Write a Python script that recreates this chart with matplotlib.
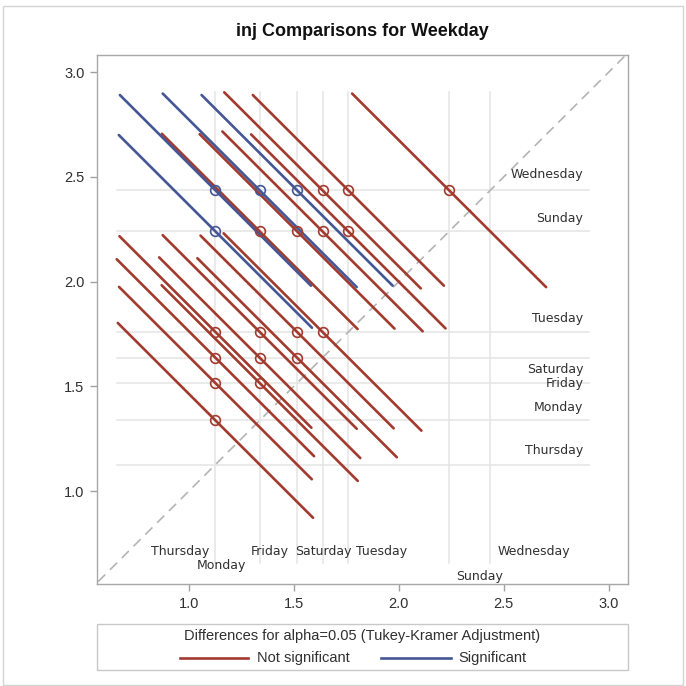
import matplotlib
matplotlib.use('Agg')
import matplotlib.pyplot as plt
from matplotlib.lines import Line2D
from matplotlib.patches import Rectangle
import numpy as np

# LS-means of inj by weekday (ascending)
days = ['Thursday', 'Monday', 'Friday', 'Saturday', 'Tuesday', 'Sunday', 'Wednesday']
lsmeans = [1.127, 1.338, 1.516, 1.637, 1.760, 2.240, 2.436]

# Pairwise comparisons: lower-mean day, higher-mean day and the half-width of the
# Tukey-Kramer adjusted confidence interval for their difference
pair_lo = ['Thursday', 'Thursday', 'Thursday', 'Thursday', 'Thursday', 'Thursday',
           'Monday', 'Monday', 'Monday', 'Monday', 'Monday',
           'Friday', 'Friday', 'Friday', 'Friday',
           'Saturday', 'Saturday', 'Saturday',
           'Tuesday', 'Tuesday',
           'Sunday']
pair_hi = ['Monday', 'Friday', 'Saturday', 'Tuesday', 'Sunday', 'Wednesday',
           'Friday', 'Saturday', 'Tuesday', 'Sunday', 'Wednesday',
           'Saturday', 'Tuesday', 'Sunday', 'Wednesday',
           'Tuesday', 'Sunday', 'Wednesday',
           'Sunday', 'Wednesday',
           'Wednesday']
ci_halfwidth = [0.930, 0.918, 0.940, 0.914, 0.920, 0.910,
                0.934, 0.958, 0.924, 0.932, 0.924,
                0.950, 0.920, 0.928, 0.910,
                0.942, 0.954, 0.936,
                0.926, 0.910,
                0.924]

RED = '#A23A2E'
BLUE = '#445694'
REF = '#e4e4e4'
TXT = '#303030'

plt.rcParams['font.family'] = ['Liberation Sans', 'DejaVu Sans']

W, H = 686, 686
fig = plt.figure(figsize=(W / 100, H / 100), dpi=100)


def fx(px):
    return px / W


def fy(py):
    return 1 - py / H


ax = fig.add_axes([fx(97), fy(584), fx(628 - 97), (584 - 55) / H])
ax.set_xlim(0.563, 3.092)
ax.set_ylim(0.557, 3.082)

mean_of = dict(zip(days, lsmeans))

# segment endpoints for every comparison
segs = []
for a, b, hw in zip(pair_lo, pair_hi, ci_halfwidth):
    x0, y0 = mean_of[a], mean_of[b]
    sig = abs(y0 - x0) > hw
    segs.append((x0, y0, hw / 2, sig))

lo = min(min(x0 - h, y0 - h) for x0, y0, h, _ in segs)
hi = max(max(x0 + h, y0 + h) for x0, y0, h, _ in segs)

# reference lines at each mean
for m in lsmeans:
    ax.plot([lo, hi], [m, m], color=REF, lw=1.1, zorder=1)
    ax.plot([m, m], [lo, hi], color=REF, lw=1.1, zorder=1)

# diagonal of equal means
ax.plot([0.4, 3.3], [0.4, 3.3], color='#b4b4b4', lw=1.2,
        linestyle=(0, (6, 4)), zorder=2)

# non-significant first, significant on top
for want in (False, True):
    for x0, y0, h, sig in segs:
        if sig != want:
            continue
        c = BLUE if sig else RED
        ax.plot([x0 - h, x0 + h], [y0 + h, y0 - h], color=c, lw=1.9,
                solid_capstyle='round', zorder=3)
        ax.plot(x0, y0, marker='o', ms=7, mfc='none', mec=c, mew=1.2, zorder=4)

# day labels on the right of the horizontal lines
right_dy = {'Wednesday': 0.075, 'Sunday': 0.063, 'Tuesday': 0.062,
            'Saturday': -0.058, 'Friday': 0.0, 'Monday': 0.063, 'Thursday': 0.066}
for d, m in zip(days, lsmeans):
    ax.text(hi - 0.025, m + right_dy[d], d, ha='right', va='center',
            fontsize=9, color=TXT, family='DejaVu Sans', zorder=5)

# day labels along the bottom of the vertical lines
bottom_pos = {'Thursday': (-0.167, 0.711), 'Monday': (-0.184, 0.645),
              'Friday': (-0.129, 0.711), 'Saturday': (0.006, 0.711),
              'Tuesday': (0.156, 0.711), 'Sunday': (0.145, 0.591),
              'Wednesday': (0.21, 0.711)}
for d, m in zip(days, lsmeans):
    dx, yy = bottom_pos[d]
    ax.text(m + dx, yy, d, ha='center', va='center',
            fontsize=9, color=TXT, family='DejaVu Sans', zorder=5)

ticks = [1.0, 1.5, 2.0, 2.5, 3.0]
ax.set_xticks(ticks)
ax.set_yticks(ticks)
ax.set_xticklabels([f'{t:.1f}' for t in ticks])
ax.set_yticklabels([f'{t:.1f}' for t in ticks])
ax.tick_params(direction='out', length=5, width=1, color='#a0a0a0',
               labelsize=10.5, labelcolor=TXT, pad=4)
for s in ax.spines.values():
    s.set_color('#a8a8a8')
    s.set_linewidth(1)

fig.text(fx(362.5), fy(32), 'inj Comparisons for Weekday', ha='center',
         va='center', fontsize=13, fontweight='bold', color='#111111')

# legend box below the plot
fig.patches.append(Rectangle((fx(97), fy(670)), fx(628 - 97), (670 - 624) / H,
                             transform=fig.transFigure, fill=False,
                             edgecolor='#c8c8c8', lw=1))
fig.text(fx(362.5), fy(636), 'Differences for alpha=0.05 (Tukey-Kramer Adjustment)',
         ha='center', va='center', fontsize=10.5, color=TXT)
fig.lines.append(Line2D([fx(180), fx(248)], [fy(658), fy(658)],
                        transform=fig.transFigure, color=RED, lw=1.9))
fig.text(fx(257), fy(658), 'Not significant', ha='left', va='center',
         fontsize=10.5, color=TXT)
fig.lines.append(Line2D([fx(381), fx(451)], [fy(658), fy(658)],
                        transform=fig.transFigure, color=BLUE, lw=1.9))
fig.text(fx(458), fy(658), 'Significant', ha='left', va='center',
         fontsize=10.5, color=TXT)

# outer frame
fig.patches.append(Rectangle((fx(3), fy(685)), fx(680), (685 - 6) / H,
                             transform=fig.transFigure, fill=False,
                             edgecolor='#d4d4d4', lw=1))

fig.savefig('out.png', dpi=100)
